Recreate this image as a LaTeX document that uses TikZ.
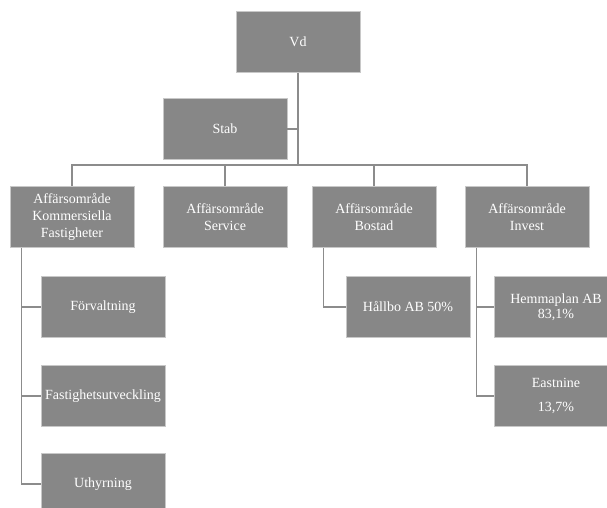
\documentclass[tikz,border=0pt]{standalone}
\usepackage{fontspec}
\setmainfont{Liberation Serif}
\usetikzlibrary{calc}
\definecolor{boxgray}{RGB}{135,135,135}
\definecolor{linegray}{RGB}{140,140,140}
\definecolor{edgegray}{RGB}{200,200,200}
\begin{document}
\begin{tikzpicture}[x=1pt,y=1pt,
  box/.style={rectangle, fill=boxgray, draw=edgegray, line width=0.6pt, text=white,
    font=\fontsize{14}{17}\selectfont, align=center, inner sep=0pt,
    minimum width=124pt, minimum height=61pt},
  conn/.style={draw=linegray, line width=1.4pt}]
\clip (0,0) rectangle (607,-507);
\fill[white] (0,0) rectangle (607,-507);
% top
\node[box] (vd) at (298,-42) {Vd};
\node[box] (stab) at (225,-129) {Stab};
% level 2
\node[box] (a1) at (72,-217) {Affärsområde\\Kommersiella\\Fastigheter};
\node[box] (a2) at (225,-217) {Affärsområde\\Service};
\node[box] (a3) at (374,-217) {Affärsområde\\Bostad};
\node[box] (a4) at (527,-217) {Affärsområde\\Invest};
% subs
\node[box] (f1) at (103,-307) {Förvaltning};
\node[box] (f2) at (103,-396) {Fastighetsutveckling};
\node[box] (f3) at (103,-484) {Uthyrning};
\node[box] (h1) at (408,-307) {Hållbo AB 50\%};
\node[box, font=\fontsize{14}{15}\selectfont] (i1) at (556,-307) {Hemmaplan AB\\83,1\%};
\node[box, font=\fontsize{14}{24}\selectfont] (i2) at (556,-396) {Eastnine\\13,7\%};
% connectors
\coordinate (bus) at (0,-165);
\draw[conn] (vd.south) -- (vd.south |- bus);
\draw[conn] (stab.east) -- (stab.east -| vd.south);
\foreach \n in {a1,a2,a3,a4}
  \draw[conn] (vd.south |- bus) -| (\n.north);
\coordinate (s1) at ($(a1.south west)+(12,0)$);
\coordinate (s3) at ($(a3.south west)+(12,0)$);
\coordinate (s4) at ($(a4.south west)+(12,0)$);
\foreach \n in {f1,f2,f3}
  \draw[conn] (s1) |- (\n.west);
\draw[conn] (s3) |- (h1.west);
\foreach \n in {i1,i2}
  \draw[conn] (s4) |- (\n.west);
\end{tikzpicture}
\end{document}
